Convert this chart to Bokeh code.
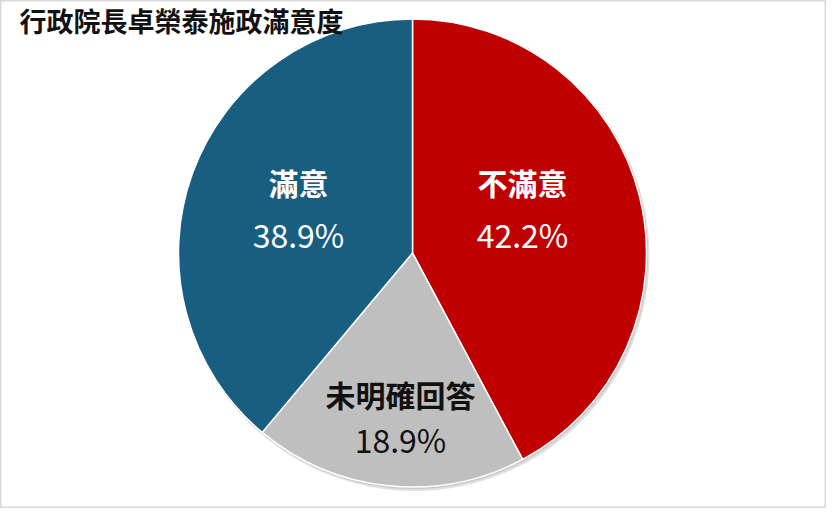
import math
from bokeh.plotting import figure
from bokeh.models import Range1d, ColumnDataSource
from bokeh.core.properties import value
from bokeh.embed import file_html
from bokeh.resources import INLINE

# ---- data ----
title = "行政院長卓榮泰施政滿意度"
categories = ["不滿意", "未明確回答", "滿意"]
percents = [42.2, 18.9, 38.9]
colors = ["#C00000", "#BFBFBF", "#175E80"]
text_colors = ["white", "#111111", "white"]
# label centers (data units == pixels)
label_x = [530, 408, 306]
label_name_y = [334, 122, 334]
label_val_y = [282, 77, 282]

FONT = "Noto Sans CJK TC"
W, H = 826, 508
cx, cy, R = 420, 262.5, 234

p = figure(width=W, height=H, output_backend="svg", toolbar_location=None,
           x_range=Range1d(8, 8 + W), y_range=Range1d(7, 7 + H),
           x_axis_type=None, y_axis_type=None, min_border=0)
p.grid.visible = False
p.outline_line_color = "#D9D9D9"
p.outline_line_width = 2
p.background_fill_color = "white"
p.border_fill_color = "white"

total = sum(percents)
starts, ends = [], []
cum = 0.0
for v in percents:
    a1 = math.pi / 2 - 2 * math.pi * cum / total
    cum += v
    a0 = math.pi / 2 - 2 * math.pi * cum / total
    starts.append(a0)
    ends.append(a1)

# soft shadow
p.circle(x=[cx + 2], y=[cy - 3], radius=R + 1, fill_color="#000000",
         fill_alpha=0.12, line_color=None)
p.circle(x=[cx + 1], y=[cy - 1.5], radius=R + 0.5, fill_color="#000000",
         fill_alpha=0.10, line_color=None)

src = ColumnDataSource(dict(start=starts, end=ends, color=colors, cat=categories))
p.wedge(x=cx, y=cy, radius=R, start_angle="start", end_angle="end",
        direction="anticlock", fill_color="color", line_color="white",
        line_width=1.5, source=src)

names = ColumnDataSource(dict(x=label_x, y=label_name_y, t=categories, c=text_colors))
vals = ColumnDataSource(dict(x=label_x, y=label_val_y,
                             t=[f"{v:.1f}%" for v in percents], c=text_colors))
p.text(x="x", y="y", text="t", text_color="c", source=names,
       text_font=value(FONT), text_font_size="30px", text_font_style="bold",
       text_align="center", text_baseline="middle")
p.text(x="x", y="y", text="t", text_color="c", source=vals,
       text_font=value(FONT), text_font_size="32px",
       text_align="center", text_baseline="middle")

p.text(x=[27], y=[495], text=[title], text_font=value(FONT),
       text_font_size="27px", text_font_style="bold", text_color="#111111",
       text_align="left", text_baseline="middle")

open("out.html", "w").write(file_html(p, INLINE))
